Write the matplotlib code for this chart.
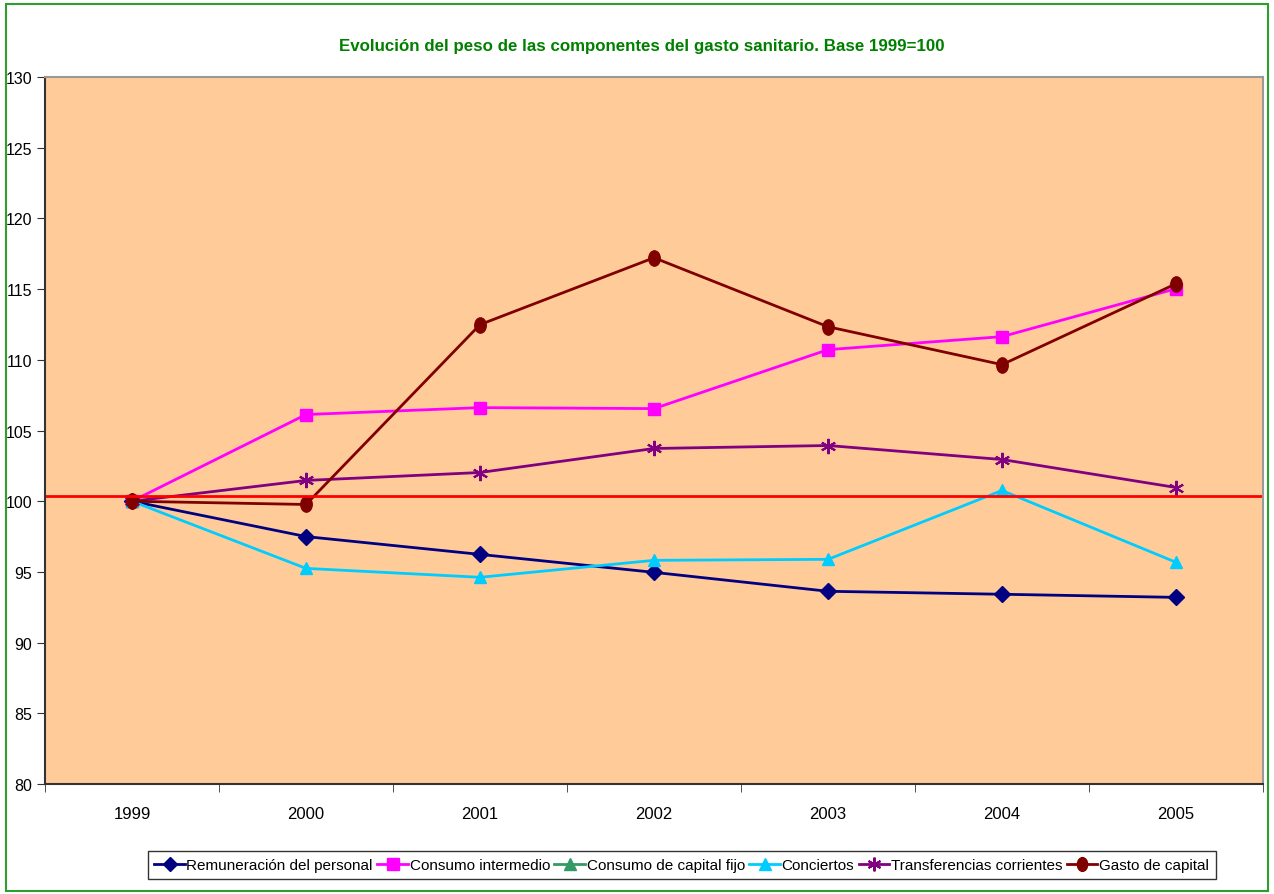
import matplotlib
matplotlib.use("Agg")
import matplotlib.pyplot as plt
import numpy as np
from matplotlib.path import Path
from matplotlib.transforms import Affine2D

years = ["1999", "2000", "2001", "2002", "2003", "2004", "2005"]
remuneracion = [100, 97.5, 96.24, 94.97, 93.63, 93.42, 93.2]
consumo_intermedio = [100, 106.13, 106.62, 106.55, 110.72, 111.64, 115.03]
consumo_capital_fijo = [100, np.nan, np.nan, np.nan, np.nan, np.nan, np.nan]
conciertos = [100, 95.25, 94.62, 95.82, 95.89, 100.76, 95.68]
transferencias = [100, 101.47, 102.03, 103.73, 103.94, 102.95, 100.97]
gasto_capital = [100, 99.77, 112.49, 117.22, 112.34, 109.66, 115.38]
reference_level = 100.4

plt.rcParams['font.family'] = ['Liberation Sans', 'DejaVu Sans']

ellipse = Path.unit_circle().transformed(Affine2D().scale(0.75, 1.0))

fig = plt.figure(figsize=(12.74, 8.95), dpi=100)
fig.patches.append(plt.Rectangle((0.005, 0.003), 0.99, 0.991, transform=fig.transFigure,
                                 fill=False, edgecolor='#2e9e2e', linewidth=1.5))
ax = fig.add_axes([0.0353, 0.1229, 0.9561, 0.7899])
ax.set_facecolor('#FFCC99')

x = np.arange(len(years))
series = [
    ("Remuneración del personal", remuneracion, '#000080', 'D', 8),
    ("Consumo intermedio", consumo_intermedio, '#FF00FF', 's', 9),
    ("Consumo de capital fijo", consumo_capital_fijo, '#339966', '^', 9),
    ("Conciertos", conciertos, '#00CCFF', '^', 9),
    ("Transferencias corrientes", transferencias, '#800080', (6, 2, 0), 11),
    ("Gasto de capital", gasto_capital, '#800000', ellipse, 11),
]
for name, vals, col, mk, ms in series:
    kw = {}
    if isinstance(mk, tuple):
        kw = dict(markeredgewidth=1.5)
    ax.plot(x, vals, color=col, marker=mk, markersize=ms, linewidth=2,
            label=name, markerfacecolor=col, markeredgecolor=col, **kw)

ax.axhline(reference_level, color='#FF0000', linewidth=2)

ax.set_xlim(-0.5, len(years) - 0.5)
ax.set_ylim(80, 130)
ax.set_yticks(np.arange(80, 131, 5))
ax.set_xticks(x)
ax.set_xticklabels(years)
ax.set_xticks(np.arange(-0.5, len(years)), minor=True)
ax.tick_params(axis='x', which='major', length=0, pad=16, labelsize=12)
ax.tick_params(axis='x', which='minor', length=6, direction='out', color='#333333')
ax.tick_params(axis='y', length=6, direction='out', labelsize=11.5, pad=3, color='#333333')

for s in ['left', 'bottom']:
    ax.spines[s].set_color('#333333')
    ax.spines[s].set_linewidth(1.5)
for s in ['top', 'right']:
    ax.spines[s].set_color('#999999')
    ax.spines[s].set_linewidth(1.5)

fig.text(0.504, 0.948, "Evolución del peso de las componentes del gasto sanitario. Base 1999=100",
         ha='center', va='center', fontsize=12.2, fontweight='bold', color='#008000')

leg = fig.legend(loc='center', bbox_to_anchor=(0.535, 0.032), ncol=6, frameon=True,
                 fontsize=11, handlelength=2.0, handletextpad=0.1, columnspacing=0.3,
                 borderpad=0.45, fancybox=False, edgecolor='black', markerscale=0.9)
leg.get_frame().set_linewidth(1)

fig.savefig("out.png", dpi=100)
